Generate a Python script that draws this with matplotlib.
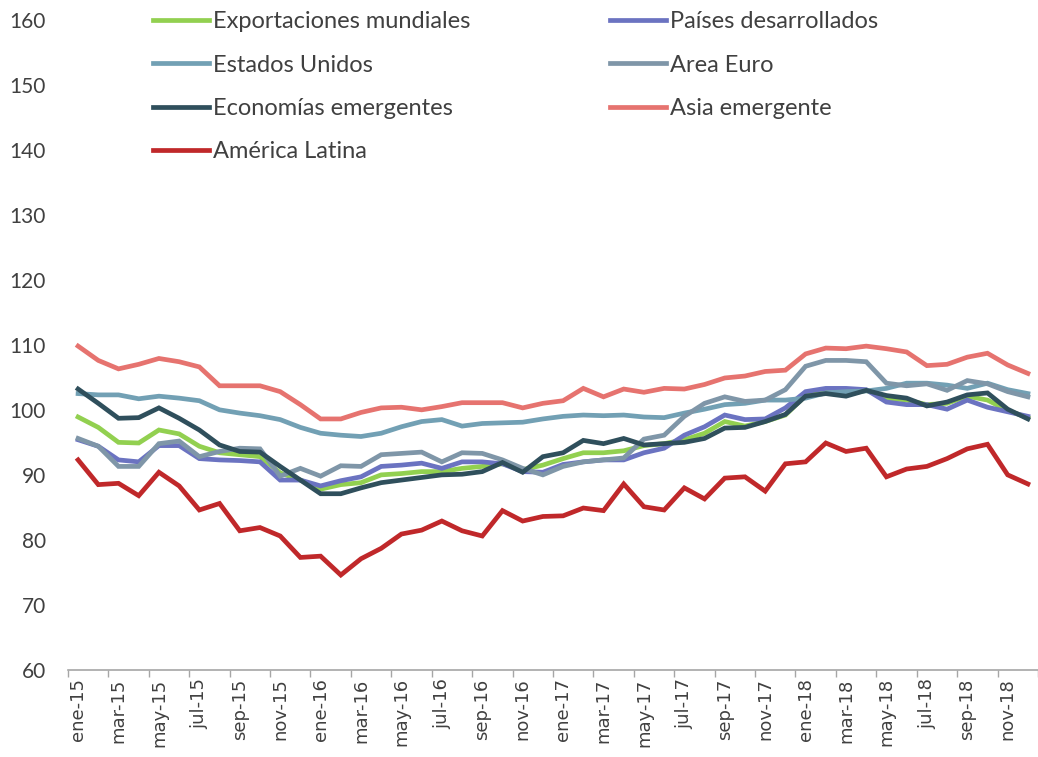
import matplotlib
matplotlib.use("Agg")
import matplotlib.pyplot as plt
import numpy as np

# Months ene-15 .. dic-18
meses = ["ene", "feb", "mar", "abr", "may", "jun", "jul", "ago", "sep", "oct", "nov", "dic"]
fechas = [f"{m}-{a}" for a in ("15", "16", "17", "18") for m in meses]

exportaciones = [98.9, 97.3, 95.0, 94.9, 96.9, 96.3, 94.4, 93.4, 93.1, 92.8, 90.3, 89.2,
                 87.8, 88.5, 88.8, 90.0, 90.2, 90.5, 90.5, 91.0, 91.3, 91.7, 90.8, 91.5,
                 92.5, 93.4, 93.4, 93.7, 94.5, 94.8, 95.4, 96.4, 98.2, 97.5, 98.2, 99.2,
                 102.2, 102.7, 102.3, 103.0, 101.8, 101.5, 100.8, 101.0, 102.1, 101.5, 99.9, 98.8]
desarrollados = [95.4, 94.4, 92.3, 92.0, 94.5, 94.5, 92.5, 92.3, 92.2, 92.0, 89.2, 89.2,
                 88.3, 89.1, 89.7, 91.3, 91.5, 91.8, 91.0, 92.0, 92.0, 91.7, 90.5, 90.4,
                 91.6, 92.0, 92.3, 92.3, 93.4, 94.1, 96.1, 97.4, 99.2, 98.5, 98.6, 100.3,
                 102.8, 103.3, 103.3, 103.1, 101.2, 100.8, 100.8, 100.1, 101.5, 100.4, 99.7, 99.0]
estados_unidos = [102.5, 102.3, 102.3, 101.7, 102.1, 101.8, 101.4, 100.0, 99.5, 99.1, 98.5, 97.3,
                  96.4, 96.1, 95.9, 96.4, 97.4, 98.2, 98.5, 97.5, 97.9, 98.0, 98.1, 98.6,
                  99.0, 99.2, 99.1, 99.2, 98.9, 98.8, 99.5, 100.1, 100.8, 101.0, 101.5, 101.5,
                  101.8, 102.6, 102.8, 102.9, 103.3, 104.1, 104.1, 103.8, 103.3, 104.1, 103.1, 102.5]
area_euro = [95.6, 94.4, 91.3, 91.3, 94.8, 95.2, 92.8, 93.6, 94.1, 94.0, 89.8, 91.0,
             89.8, 91.4, 91.3, 93.1, 93.3, 93.5, 92.0, 93.4, 93.3, 92.3, 91.0, 90.0,
             91.3, 92.0, 92.3, 92.6, 95.5, 96.1, 99.0, 101.0, 102.0, 101.3, 101.5, 103.1,
             106.7, 107.6, 107.6, 107.4, 104.1, 103.7, 104.0, 103.0, 104.5, 104.0, 102.8, 102.0]
emergentes = [103.2, 101.0, 98.7, 98.8, 100.3, 98.7, 96.9, 94.6, 93.6, 93.5, 91.3, 89.2,
              87.1, 87.1, 88.0, 88.8, 89.2, 89.6, 90.0, 90.1, 90.5, 91.9, 90.4, 92.8,
              93.4, 95.3, 94.8, 95.6, 94.6, 94.8, 95.0, 95.6, 97.2, 97.3, 98.2, 99.3,
              102.1, 102.5, 102.1, 103.0, 102.2, 101.8, 100.6, 101.2, 102.3, 102.6, 100.1, 98.6]
asia = [109.8, 107.6, 106.3, 107.0, 107.9, 107.4, 106.6, 103.7, 103.7, 103.7, 102.8, 100.8,
        98.6, 98.6, 99.6, 100.3, 100.4, 100.0, 100.5, 101.1, 101.1, 101.1, 100.3, 101.0,
        101.4, 103.3, 102.0, 103.2, 102.7, 103.3, 103.2, 103.9, 104.9, 105.2, 105.9, 106.1,
        108.6, 109.5, 109.4, 109.8, 109.4, 108.9, 106.8, 107.0, 108.1, 108.7, 106.9, 105.6]
america_latina = [92.3, 88.5, 88.7, 86.8, 90.4, 88.3, 84.6, 85.6, 81.4, 81.9, 80.6, 77.3,
                  77.5, 74.6, 77.1, 78.7, 80.9, 81.5, 82.9, 81.4, 80.6, 84.5, 82.9, 83.6,
                  83.7, 84.9, 84.5, 88.6, 85.1, 84.6, 88.0, 86.3, 89.5, 89.7, 87.5, 91.7,
                  92.0, 94.9, 93.6, 94.1, 89.7, 90.9, 91.3, 92.5, 94.0, 94.7, 90.0, 88.6]

series = [
    ("Exportaciones mundiales", exportaciones, "#92D050"),
    ("Países desarrollados", desarrollados, "#6B73C1"),
    ("Estados Unidos", estados_unidos, "#72A0B4"),
    ("Area Euro", area_euro, "#7F96A8"),
    ("Economías emergentes", emergentes, "#2F4F5C"),
    ("Asia emergente", asia, "#E6736F"),
    ("América Latina", america_latina, "#C0282A"),
]

fig = plt.figure(figsize=(10.38, 7.57), dpi=100)
ax = fig.add_axes([0.0655, 0.115, 0.9345, 0.859])

x = np.arange(len(fechas))
handles = {}
for nombre, valores, color in series:
    (ln,) = ax.plot(x, valores, color=color, lw=3.4, label=nombre, solid_joinstyle="miter")
    handles[nombre] = ln

ax.set_ylim(60, 160)
ax.set_yticks(range(60, 161, 10))
ax.set_xlim(-0.5, len(fechas) - 0.5)

# labels every two months, tick marks between categories
ax.set_xticks(x[::2])
ax.set_xticklabels(fechas[::2], rotation=90, fontsize=13, color="#404040",
                   family="DejaVu Sans")
ax.set_xticks(np.arange(-0.5, len(fechas), 2), minor=True)
ax.tick_params(axis="x", which="major", length=0, pad=6)
ax.tick_params(axis="x", which="minor", length=5, color="#A6A6A6", width=1)
ax.tick_params(axis="y", length=0, labelsize=15, labelcolor="#404040", pad=16)
for lab in ax.get_yticklabels():
    lab.set_family("Lato")

for s in ("left", "right", "top"):
    ax.spines[s].set_visible(False)
ax.spines["bottom"].set_color("#A6A6A6")
ax.spines["bottom"].set_linewidth(1.2)

orden = ["Exportaciones mundiales", "Estados Unidos", "Economías emergentes", "América Latina",
         "Países desarrollados", "Area Euro", "Asia emergente"]
leg = ax.legend([handles[n] for n in orden], orden, ncol=2, frameon=False,
                loc="upper left", bbox_to_anchor=(0.066, 1.0454),
                prop={"family": "Lato", "size": 17}, labelcolor="#404040",
                handlelength=2.37, handletextpad=0.17, labelspacing=0.94,
                columnspacing=5.9)

fig.savefig("out.png", dpi=100)
